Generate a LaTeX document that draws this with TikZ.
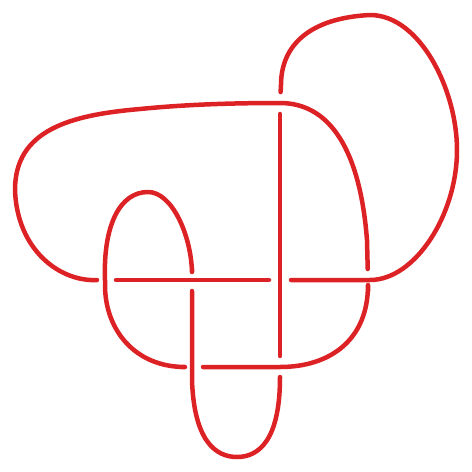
\documentclass[tikz,border=0pt]{standalone}
\definecolor{knotred}{RGB}{221,34,38}
\begin{document}
\begin{tikzpicture}[x=1pt,y=-1pt,
  strand/.style={draw=knotred,line width=4.5pt,line cap=round,line join=round,
    shorten <=11pt,shorten >=11pt}]
  \useasboundingbox (0,0) rectangle (472,472);
  % crossings
  \coordinate (tp) at (280,103);
  \coordinate (lf) at (105,280);
  \coordinate (ml) at (192,280);
  \coordinate (mr) at (280,280);
  \coordinate (rt) at (368,280);
  \coordinate (bl) at (192,367);
  \coordinate (br) at (280,367);
  % right loop
  \draw[strand] (tp) -- (281,85) .. controls (281,45) and (310,18) .. (370,15)
    .. controls (420,15) and (457,90) .. (457,150)
    .. controls (457,215) and (415,280) .. (370,280) -- (rt) -- (mr);
  \draw[strand] (mr) -- (ml) -- (lf);
  % big left loop
  \draw[strand] (lf) -- (97,280) .. controls (60,282) and (17,250) .. (15,190)
    .. controls (15,130) and (70,115) .. (140,109)
    .. controls (190,104) and (240,103) .. (tp)
    .. controls (330,103) and (360,150) .. (367,240) -- (rt);
  \draw[strand] (rt) -- (368,285) .. controls (368,340) and (330,367) .. (br) -- (bl);
  % small top loop
  \draw[strand] (bl) -- (185,367) .. controls (135,367) and (105,330) .. (105,285)
    -- (lf) .. controls (103,225) and (120,192) .. (148,192)
    .. controls (172,192) and (191,235) .. (192,272) -- (ml);
  % bottom loop
  \draw[strand] (ml) -- (bl) -- (192,380) .. controls (194,440) and (215,457) .. (237,457)
    .. controls (259,457) and (280,440) .. (280,377) -- (br);
  \draw[strand] (br) -- (mr) -- (tp);
\end{tikzpicture}
\end{document}
